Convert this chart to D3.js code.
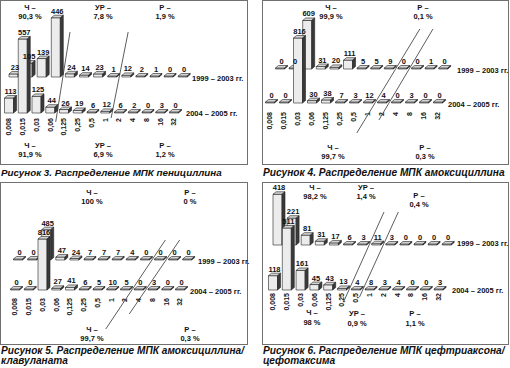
<!DOCTYPE html>
<html><head><meta charset="utf-8">
<script src="https://cdn.jsdelivr.net/npm/d3@7"></script>
<style>
html,body{margin:0;padding:0;background:#fff;}
svg{display:block;font-family:"Liberation Sans",Arial,sans-serif;}
</style></head><body>
<svg id="chart" width="510" height="368"></svg>
<script>
// ---------- DATA ----------
const categories = ["0,008","0,015","0,03","0,06","0,125","0,25","0,5","1","2","4","8","16","32"];
const rowLabels = ["1999 – 2003 гг.", "2004 – 2005 гг."];

const penicillin1999  = [23,105,139,446,24,14,23,1,12,2,1,0,0];
const penicillin2004  = [113,557,125,44,26,19,6,12,6,2,0,3,0];
const amoxicillin1999 = [0,0,609,31,20,111,5,5,9,0,0,1,0];
const amoxicillin2004 = [0,0,816,30,38,7,3,12,4,0,3,0,0];
const amoxclav1999    = [0,0,485,47,24,7,7,7,4,0,0,0,0];
const amoxclav2004    = [0,0,816,27,41,6,5,10,5,0,3,0,0];
const ceftriaxone1999 = [418,221,81,31,17,6,3,11,3,0,0,0,0];
const ceftriaxone2004 = [118,511,161,45,43,13,4,8,3,4,0,0,3];

const penicillinTop     = [["Ч –","90,3 %"],["УР –","7,8 %"],["Р –","1,9 %"]];
const penicillinBottom  = [["Ч –","91,9 %"],["УР –","6,9 %"],["Р –","1,2 %"]];
const amoxicillinTop    = [["Ч –","99,9 %"],["Р –","0,1 %"]];
const amoxicillinBottom = [["Ч –","99,7 %"],["Р –","0,3 %"]];
const amoxclavTop       = [["Ч –","100 %"],["Р –","0 %"]];
const amoxclavBottom    = [["Ч –","99,7 %"],["Р –","0,3 %"]];
const ceftriaxoneTop    = [["Ч –","98,2 %"],["УР –","1,4 %"],["Р –","0,4 %"]];
const ceftriaxoneBottom = [["Ч –","98 %"],["УР –","0,9 %"],["Р –","1,1 %"]];

// category boundaries crossed by the separating lines: [back row, front row]
const penicillinBreaks  = [[3.5,3.5],[7.5,7.5]];
const amoxicillinBreaks = [[8.5,7.5],[9.5,8.5]];
const amoxclavBreaks    = [[9.5,8.5],[10.5,9.5]];
const ceftriaxoneBreaks = [[6.5,5.5],[7.5,6.5]];

const captions = [
  ["Рисунок 3. Распределение МПК пенициллина"],
  ["Рисунок 4. Распределение МПК амоксициллина"],
  ["Рисунок 5. Распределение МПК амоксициллина/", "клавуланата"],
  ["Рисунок 6. Распределение МПК цефтриаксона/", "цефотаксима"]
];

// ---------- LAYOUT ----------
const panels = [
  { back: penicillin1999, front: penicillin2004, top: penicillinTop, bottom: penicillinBottom, breaks: penicillinBreaks, caption: captions[0],
    box:[0,0,248,165], x0:9, step:13.75, bx0:13.5, bstep:14.1, backBase:77, frontBase:113, maxV:557, maxH:74, tickTop:118,
    rowLabelPos:[[192,80.5],[186,116]],
    topPos:[[30,9.7],[103,9.7],[165,9.7]], bottomPos:[[30,147.7],[103,147.7],[165,147.7]],
    lineY:[[32,122],[32,118]], capX:1, capY:[176], capW:221 },
  { back: amoxicillin1999, front: amoxicillin2004, top: amoxicillinTop, bottom: amoxicillinBottom, breaks: amoxicillinBreaks, caption: captions[1],
    box:[262,0,247,165], x0:8, step:14, bx0:18, bstep:13.6, backBase:69, frontBase:103, maxV:816, maxH:65, tickTop:112,
    rowLabelPos:[[195,72.5],[186,106.5]],
    topPos:[[69,9.7],[161,9.7]], bottomPos:[[71,149.7],[163,149.7]],
    lineY:[[29,133],[29,120]], capX:263, capY:[176], capW:242 },
  { back: amoxclav1999, front: amoxclav2004, top: amoxclavTop, bottom: amoxclavBottom, breaks: amoxclavBreaks, caption: captions[2],
    box:[0,182,248,163], x0:15, step:13.75, bx0:18, bstep:14.1, backBase:78, frontBase:108, maxV:816, maxH:51, tickTop:116,
    rowLabelPos:[[198,81.5],[190,111.5]],
    topPos:[[92,12.5],[190,12.5]], bottomPos:[[92,149.5],[190,149.5]],
    lineY:[[58,147],[58,132]], capX:1, capY:[354,364], capW:243 },
  { back: ceftriaxone1999, front: ceftriaxone2004, top: ceftriaxoneTop, bottom: ceftriaxoneBottom, breaks: ceftriaxoneBreaks, caption: captions[3],
    box:[262,182,247,163], x0:11, step:13.8, bx0:15.5, bstep:14.1, backBase:63, frontBase:108, maxV:511, maxH:62, tickTop:111,
    rowLabelPos:[[195,63.5],[190,110.5]],
    topPos:[[53,7.7],[104,7.7],[157,15.7]], bottomPos:[[50,133],[95,134],[153,134]],
    lineY:[[30,120],[30,115]], capX:263, capY:[354,364], capW:242 }
];

const W = 9, OX = 3, OY = -2.5;
const svg = d3.select("#chart");

panels.forEach(p => {
  const g = svg.append("g").attr("transform", `translate(${p.box[0]},${p.box[1]})`);
  g.append("rect").attr("x",0.5).attr("y",0.5)
    .attr("width",p.box[2]-1).attr("height",p.box[3]-1)
    .attr("fill","none").attr("stroke","#707070").attr("stroke-width",1);

  const n = categories.length;
  const xFront = d3.scalePoint().domain(categories).range([p.x0, p.x0 + p.step*(n-1)]);
  const xBack  = d3.scalePoint().domain(categories).range([p.bx0, p.bx0 + p.bstep*(n-1)]);
  const iFront = d3.scaleLinear().domain([0, n-1]).range(xFront.range());
  const iBack  = d3.scaleLinear().domain([0, n-1]).range(xBack.range());
  const hS = d3.scaleLinear().domain([0, p.maxV]).range([0, p.maxH]);

  const rows = [
    { vals: p.back, base: p.backBase, x: xBack },
    { vals: p.front, base: p.frontBase, x: xFront }
  ];
  const barLayer = g.append("g");
  const labelLayer = g.append("g");

  rows.forEach((row, ri) => {
    const data = categories.map((c, i) => ({ c, v: row.vals[i], cx: row.x(c) }));
    const geo = d => { const l = d.cx - W/2, r = d.cx + W/2, t = row.base - Math.max(hS(d.v), 1); return {l, r, t, bse: row.base}; };
    const b = barLayer.append("g").selectAll("g.bar").data(data).join("g").attr("class","bar");
    b.append("path").attr("d", d => { const q = geo(d); return `M${q.l},${q.t}H${q.r}V${q.bse}H${q.l}Z`; })
      .attr("fill","#ececec").attr("stroke","#222").attr("stroke-width",0.6);
    b.append("path").attr("d", d => { const q = geo(d); return `M${q.l},${q.t}L${q.l+OX},${q.t+OY}H${q.r+OX}L${q.r},${q.t}Z`; })
      .attr("fill","#d4d4d4").attr("stroke","#222").attr("stroke-width",0.6);
    b.append("path").attr("d", d => { const q = geo(d); return `M${q.r},${q.t}L${q.r+OX},${q.t+OY}V${q.bse+OY}L${q.r},${q.bse}Z`; })
      .attr("fill","#3a3a3a").attr("stroke","#222").attr("stroke-width",0.6);
    labelLayer.append("g").selectAll("text").data(data).join("text")
      .attr("x", d => d.cx + OX/2).attr("y", d => geo(d).t + OY - 1.5)
      .attr("text-anchor","middle").attr("font-size",7.5).attr("font-weight","bold").attr("fill","#111")
      .text(d => d.v);
    labelLayer.append("text").attr("x", p.rowLabelPos[ri][0]).attr("y", p.rowLabelPos[ri][1])
      .attr("font-size",7.5).attr("font-weight","bold").attr("fill","#111").text(rowLabels[ri]);
  });

  // category tick labels (rotated)
  labelLayer.selectAll("text.tick").data(categories).join("text").attr("class","tick")
    .attr("transform", c => `translate(${xFront(c)},${p.tickTop}) rotate(-90)`)
    .attr("dy","0.35em").attr("text-anchor","end")
    .attr("font-size",7).attr("font-weight","bold").attr("fill","#111").text(c => c);

  // separating lines
  p.breaks.forEach((br, k) => {
    const xb = iBack(br[0]), xf = iFront(br[1]);
    const slope = (xb - xf) / (p.frontBase - p.backBase);
    const [y1, y2] = p.lineY[k];
    const xAt = y => xf + (p.frontBase - y) * slope;
    g.append("line").attr("x1", xAt(y1)).attr("y1", y1).attr("x2", xAt(y2)).attr("y2", y2)
      .attr("stroke","#333").attr("stroke-width",0.8);
  });

  // annotations
  const ann = (list, pos) => list.forEach((a, i) => {
    a.forEach((s, j) => g.append("text").attr("x", pos[i][0]).attr("y", pos[i][1] + j*9.5)
      .attr("text-anchor","middle").attr("font-size",7.5).attr("font-weight","bold").attr("fill","#111").text(s));
  });
  ann(p.top, p.topPos);
  ann(p.bottom, p.bottomPos);

  // caption
  const capTexts = p.caption.map((s, j) => svg.append("text").attr("x", p.capX).attr("y", p.capY[j])
    .attr("font-size",10).attr("font-weight","bold").attr("font-style","italic").attr("fill","#111").text(s));
  const len = capTexts[0].node().getComputedTextLength();
  const fs = 10 * p.capW / len;
  capTexts.forEach(t => t.attr("font-size", fs));
});
</script>
</body></html>
